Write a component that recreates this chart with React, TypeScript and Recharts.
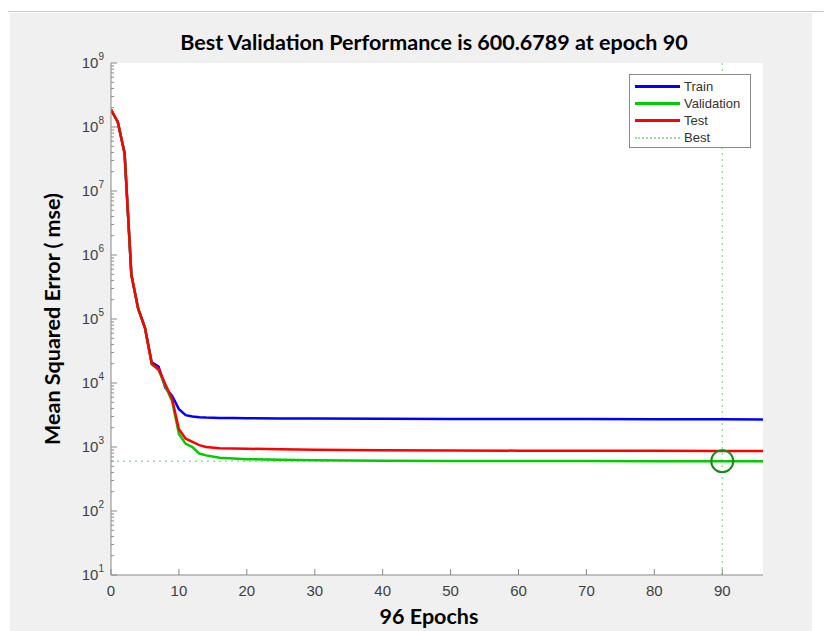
import React from "react";
import {
  LineChart,
  Line,
  XAxis,
  YAxis,
  CartesianGrid,
  ReferenceLine,
  ReferenceDot,
} from "recharts";

// epochs and mse per split (log scale)
const epochs = [0, 1, 2, 3, 4, 5, 6, 7, 8, 9, 10, 11, 12, 13, 14, 16, 18, 20, 25, 30, 40, 50, 60, 70, 80, 90, 96];
const train = [1.86e8, 1.2e8, 3.9e7, 4.9e5, 1.45e5, 7.3e4, 2.1e4, 1.8e4, 8.5e3, 6.3e3, 3.9e3, 3.15e3, 3.0e3, 2.92e3, 2.88e3, 2.85e3, 2.83e3, 2.82e3, 2.8e3, 2.78e3, 2.76e3, 2.75e3, 2.74e3, 2.73e3, 2.72e3, 2.71e3, 2.7e3];
const validation = [1.86e8, 1.2e8, 3.9e7, 4.9e5, 1.45e5, 7.3e4, 1.95e4, 1.6e4, 9.0e3, 5.2e3, 1.6e3, 1.12e3, 1.0e3, 790, 740, 680, 660, 645, 630, 620, 612, 607, 604, 602, 601, 600.68, 600.5];
const test = [1.86e8, 1.2e8, 3.9e7, 4.9e5, 1.45e5, 7.3e4, 2.0e4, 1.66e4, 9.6e3, 5.6e3, 1.9e3, 1.35e3, 1.2e3, 1.07e3, 1.0e3, 960, 950, 940, 920, 905, 890, 882, 877, 873, 870, 868, 867];

const xTicks = [0, 10, 20, 30, 40, 50, 60, 70, 80, 90];
const yDecades = [1, 2, 3, 4, 5, 6, 7, 8, 9];
const yMinorSteps = [2, 3, 4, 5, 6, 7, 8, 9];

const bestEpoch = 90;
const bestValue = 600.6789;

const data = epochs.map((epoch, i) => ({
  epoch,
  train: train[i],
  validation: validation[i],
  test: test[i],
}));

const yTicks: number[] = [];
yDecades.forEach((d) => {
  yTicks.push(Math.pow(10, d));
  if (d < 9) yMinorSteps.forEach((m) => yTicks.push(m * Math.pow(10, d)));
});

const TICK_SIZE = 6;
const TICK_MARGIN = 2;
const AXIS_COLOR = "#8a8a8a";
const LABEL_COLOR = "#404040";
const tickFont = "'Liberation Sans', Arial, sans-serif";

function YTick(props: any) {
  const { x, y, payload } = props;
  const axisX = x + TICK_SIZE + TICK_MARGIN;
  const exp = Math.log10(payload.value);
  const major = Math.abs(exp - Math.round(exp)) < 1e-6;
  return (
    <g>
      <line x1={axisX} x2={axisX + (major ? 6 : 3)} y1={y} y2={y} stroke={AXIS_COLOR} />
      {major && (
        <text x={axisX - 7} y={y + 5} textAnchor="end" fontFamily={tickFont} fontSize={15} fill={LABEL_COLOR}>
          10
          <tspan dy={-8} fontSize={10}>{Math.round(exp)}</tspan>
        </text>
      )}
    </g>
  );
}

function XTick(props: any) {
  const { x, y, payload } = props;
  const axisY = y - TICK_SIZE - TICK_MARGIN;
  return (
    <g>
      <line x1={x} x2={x} y1={axisY} y2={axisY - 6} stroke={AXIS_COLOR} />
      <text x={x} y={axisY + 21} textAnchor="middle" fontFamily={tickFont} fontSize={15} fill={LABEL_COLOR}>
        {payload.value}
      </text>
    </g>
  );
}

const legendItems = [
  { name: "Train", color: "#0000ff", dashed: false },
  { name: "Validation", color: "#00cc00", dashed: false },
  { name: "Test", color: "#ff0000", dashed: false },
  { name: "Best", color: "#9fdc9f", dashed: true },
];

const headFont = "Lato, 'Open Sans', sans-serif";

export default function App() {
  return (
    <div>
      <div style={{ position: "absolute", left: 8, top: 11, width: 816, height: 1, background: "#c8c8c8" }} />
      <div
        style={{
          position: "absolute",
          left: 10,
          top: 13,
          width: 802,
          height: 618,
          background: "#f0f0f0",
        }}
      >
        <LineChart width={802} height={618} data={data} margin={{ top: 50, right: 49, bottom: 26, left: 41 }}>
          <CartesianGrid fill="#ffffff" horizontal={false} vertical={false} />
          <XAxis
            dataKey="epoch"
            type="number"
            domain={[0, 96]}
            ticks={xTicks}
            height={30}
            axisLine={{ stroke: AXIS_COLOR }}
            tickLine={false}
            tickSize={TICK_SIZE}
            tickMargin={TICK_MARGIN}
            tick={<XTick />}
            allowDataOverflow
          />
          <YAxis
            scale="log"
            type="number"
            domain={[10, 1e9]}
            ticks={yTicks}
            interval={0}
            width={60}
            axisLine={{ stroke: AXIS_COLOR }}
            tickLine={false}
            tickSize={TICK_SIZE}
            tickMargin={TICK_MARGIN}
            tick={<YTick />}
            allowDataOverflow
          />
          <ReferenceLine x={bestEpoch} stroke="#9fdc9f" strokeWidth={1.5} strokeDasharray="2 4" />
          <ReferenceLine y={bestValue} stroke="#9fdc9f" strokeWidth={1.5} strokeDasharray="2 4" />
          <Line dataKey="train" stroke="#0000ff" strokeWidth={2.5} dot={false} type="linear" isAnimationActive={false} />
          <Line dataKey="validation" stroke="#00cc00" strokeWidth={2.5} dot={false} type="linear" isAnimationActive={false} />
          <Line dataKey="test" stroke="#ff0000" strokeWidth={2.5} dot={false} type="linear" isAnimationActive={false} />
          <ReferenceDot x={bestEpoch} y={bestValue} r={11} fill="none" stroke="#1a8a1a" strokeWidth={2} />
        </LineChart>

        <div
          style={{
            position: "absolute",
            left: 0,
            width: 848,
            top: 16,
            textAlign: "center",
            fontFamily: headFont,
            fontWeight: 700,
            fontSize: 21.5,
            color: "#000",
          }}
        >
          Best Validation Performance is 600.6789 at epoch 90
        </div>
        <div
          style={{
            position: "absolute",
            left: 0,
            width: 838,
            top: 590,
            textAlign: "center",
            fontFamily: headFont,
            fontWeight: 700,
            fontSize: 21.5,
            color: "#000",
          }}
        >
          96 Epochs
        </div>
        <div
          style={{
            position: "absolute",
            left: 42,
            top: 306,
            transform: "translate(-50%, -50%) rotate(-90deg)",
            whiteSpace: "nowrap",
            fontFamily: headFont,
            fontWeight: 700,
            fontSize: 21.5,
            color: "#000",
          }}
        >
          Mean Squared Error ( mse)
        </div>

        <div
          style={{
            position: "absolute",
            left: 619,
            top: 61,
            width: 122,
            height: 74,
            background: "#ffffff",
            border: "1px solid #8a8a8a",
            padding: "3px 0 0 5px",
            boxSizing: "border-box",
          }}
        >
          {legendItems.map((item) => (
            <div key={item.name} style={{ display: "flex", alignItems: "center", height: 17 }}>
              <div
                style={{
                  width: 45,
                  height: 0,
                  borderTop: item.dashed ? `2px dotted ${item.color}` : `3px solid ${item.color}`,
                  marginRight: 4,
                }}
              />
              <span style={{ fontFamily: tickFont, fontSize: 13, color: "#333" }}>{item.name}</span>
            </div>
          ))}
        </div>
      </div>
    </div>
  );
}
